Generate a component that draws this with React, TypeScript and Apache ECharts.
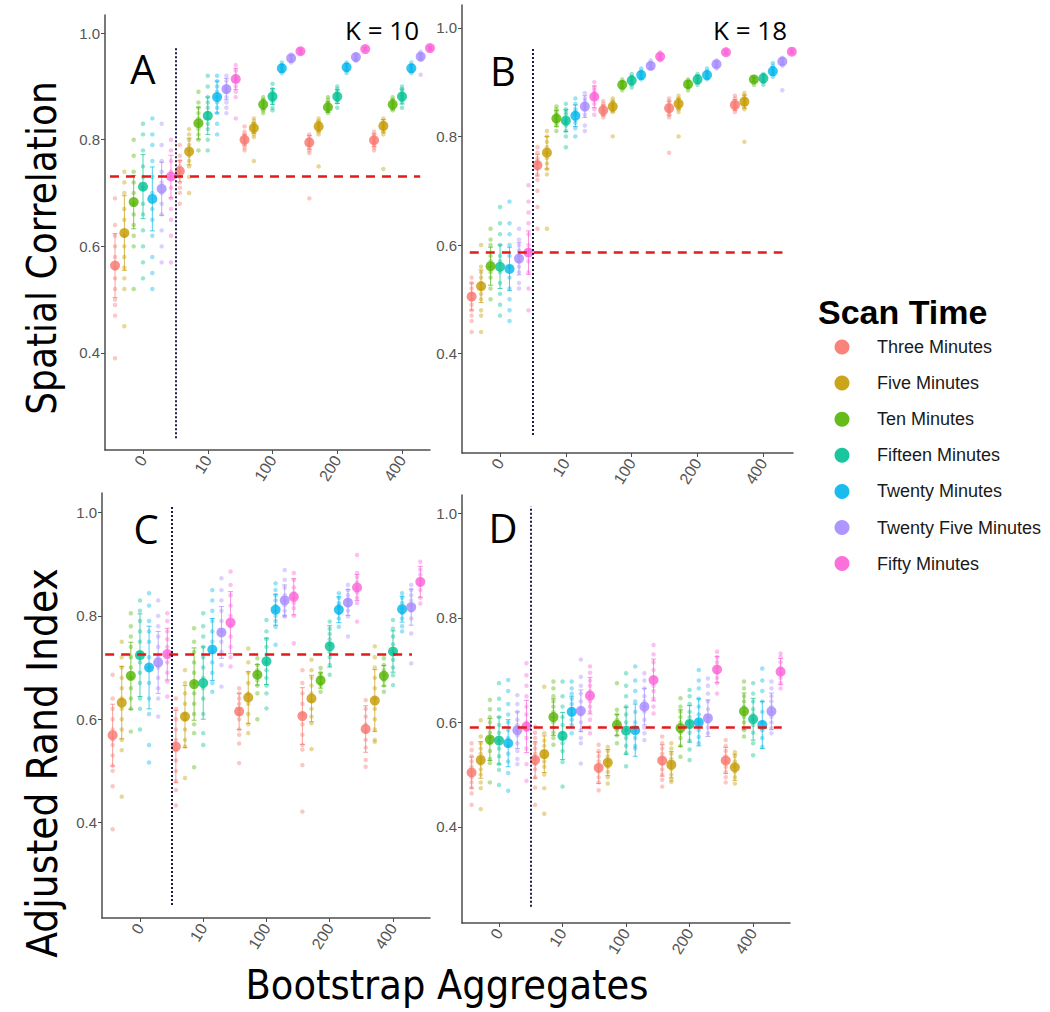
import React, { useEffect, useRef } from "react";
import * as echarts from "echarts";

// ---------- data ----------
const categories = ["0", "10", "100", "200", "400"];
const scanTimes = [
  "Three Minutes",
  "Five Minutes",
  "Ten Minutes",
  "Fifteen Minutes",
  "Twenty Minutes",
  "Twenty Five Minutes",
  "Fifty Minutes",
];
const colors = ["#F8766D", "#C49A00", "#53B400", "#00C094", "#00B6EB", "#A58AFF", "#FB61D7"];
const yTicks = [0.4, 0.6, 0.8, 1.0];

// means: rows = bootstrap aggregate group, cols = scan time
const meansA = [
  [0.564, 0.625, 0.683, 0.712, 0.689, 0.708, 0.731],
  [0.741, 0.778, 0.831, 0.845, 0.88, 0.895, 0.914],
  [0.8, 0.822, 0.866, 0.881, 0.934, 0.953, 0.966],
  [0.795, 0.825, 0.861, 0.881, 0.936, 0.955, 0.97],
  [0.799, 0.826, 0.866, 0.881, 0.934, 0.956, 0.972],
];
const sdA = [
  [0.06, 0.07, 0.05, 0.06, 0.06, 0.05, 0.04],
  [0.02, 0.025, 0.03, 0.035, 0.03, 0.02, 0.02],
  [0.01, 0.01, 0.01, 0.015, 0.007, 0.005, 0.004],
  [0.013, 0.01, 0.01, 0.013, 0.007, 0.005, 0.003],
  [0.012, 0.012, 0.01, 0.014, 0.007, 0.005, 0.003],
];
const pointsA = [
  [
    "69 64 62 60 58 56 54 52 50 49 47 39",
    "74 72 70 67 65 62 60 58 56 54 52 45",
    "80 77 74 72 70 68 66 64 62 60 52",
    "83 81 78 75 73 71 68 66 63 60 57 54",
    "84 81 79 76 73 70 67 65 62 58 55 52",
    "83 79 76 74 72 70 68 66 63 60 57",
    "80 78 76 74 73 71 69 67 65 62 57",
  ],
  [
    "79 77 76 75 74 73 72 71 70 68",
    "82 81 80 79 78 77 76 75 73 70",
    "89 87 86 85 84 83 82 81 80 78",
    "92 90 88 87 86 85 84 83 82 80 78",
    "92 91 90 89 88 87 86 85 83 81",
    "92 91 90 89.5 89 88 87 86 85",
    "94 93 92 91.5 91 90 89 88 84",
  ],
  [
    "82.5 81.5 81 80.5 80 79.5 79 78.5 78",
    "84 83.5 83 82.5 82 81.5 81 80.5 76",
    "88 87.5 87 86.5 86 85.5 85",
    "90.5 89.5 89 88.5 88 87.5 87 86 85.5",
    "94.5 94 93.5 93 92.5",
    "96 95.5 95 94.5",
    "97 96.8 96.5 96.2",
  ],
  [
    "81 80.5 80 79.5 79 78.5 78 77.5 69",
    "84 83.5 83 82.5 82 81.5 81 75",
    "88 87.5 87 86.5 86 85.5 85",
    "90 89.5 89 88.5 88 87.5 87 86",
    "94.5 94 93.5 93 92.5",
    "96 95.5 95 94.8",
    "97.3 97 96.8",
  ],
  [
    "81.5 81 80.5 80 79.5 79 78.5 78",
    "84 83.5 83 82.5 82 81.5 81 74.5",
    "88 87.5 87 86.5 86 85.5",
    "90 89.5 89 88.5 88 87.5 87 86",
    "94.5 94 93.5 93 92.5",
    "96.5 96 95.5 95 92.2",
    "97.5 97.2 97 96.8",
  ],
];

const meansB = [
  [0.505, 0.524, 0.561, 0.56, 0.556, 0.575, 0.586],
  [0.747, 0.77, 0.833, 0.829, 0.838, 0.855, 0.873],
  [0.848, 0.855, 0.895, 0.903, 0.913, 0.93, 0.947],
  [0.852, 0.86, 0.896, 0.905, 0.913, 0.933, 0.955],
  [0.858, 0.864, 0.905, 0.907, 0.92, 0.938, 0.956],
];
const sdB = [
  [0.025, 0.03, 0.035, 0.04, 0.04, 0.03, 0.04],
  [0.02, 0.03, 0.015, 0.02, 0.02, 0.02, 0.02],
  [0.01, 0.01, 0.006, 0.008, 0.007, 0.005, 0.004],
  [0.013, 0.01, 0.006, 0.008, 0.007, 0.005, 0.003],
  [0.01, 0.012, 0.004, 0.008, 0.008, 0.006, 0.003],
];
const pointsB = [
  [
    "54 53 52 51 50 49 48 47 46 44",
    "60 56 55 54 53 52 51 50 48 47 44",
    "63 61 60 58 57 56 55 54 52 50",
    "67 64 62 60 58 57 55 53 51 49 47",
    "68 64 62 60 58 56 54 52 50 48 46",
    "63 61 60 59 58 57 56 55 53 52",
    "71 68 66 64 62 60 59 57 55 52 48",
  ],
  [
    "78 77 76 75.5 75 74 73 72 70 67 63",
    "81 80 79 78 77 76 75 74 73 63",
    "85.5 85 84.5 84 83.5 83 82.5 82 81",
    "86 85 84.5 84 83 82.5 82 81 80 78",
    "87 86 85 84.5 84 83 82.5 81.5 80",
    "88 87 86.5 86 85.5 85 84 82 81",
    "90 89 88.5 88 87.5 87 86 85 84",
  ],
  [
    "86.5 86 85.5 85 84.5 84 83.5",
    "87 86.5 86 85.5 85 84.5 80",
    "90.5 90 89.5 89 88.5",
    "91.5 91 90.5 90 89.5 89",
    "92.5 92 91.5 91 90.5",
    "94 93.5 93 92.5",
    "95.5 95 94.5 94",
  ],
  [
    "87 86.5 86 85.5 85 84.5 84 83.5 77",
    "87.5 87 86.5 86 85.5 85 84.5 80",
    "90.5 90 89.5 89 88.5",
    "91.5 91 90.5 90 89.5",
    "92.5 92 91.5 91 90.5",
    "94 93.5 93 92.5",
    "96 95.5 95.2",
  ],
  [
    "87.5 87 86.5 86 85.5 85 84.5",
    "88 87.5 87 86.5 86 85.5 85 79",
    "91 90.5 90 89.5",
    "91.5 91 90.5 90 89.5",
    "93.5 93 92.5 92 91.5 91",
    "94.5 94 93.5 93 88.5",
    "96 95.7 95.4",
  ],
];

const meansC = [
  [0.569, 0.632, 0.684, 0.724, 0.7, 0.71, 0.726],
  [0.547, 0.605, 0.668, 0.67, 0.735, 0.768, 0.787],
  [0.615, 0.642, 0.686, 0.712, 0.812, 0.83, 0.837],
  [0.606, 0.64, 0.675, 0.741, 0.812, 0.826, 0.855],
  [0.581, 0.636, 0.684, 0.731, 0.813, 0.817, 0.866],
];
const sdC = [
  [0.06, 0.07, 0.065, 0.08, 0.08, 0.06, 0.05],
  [0.07, 0.06, 0.07, 0.07, 0.06, 0.05, 0.06],
  [0.035, 0.05, 0.02, 0.045, 0.03, 0.03, 0.035],
  [0.055, 0.045, 0.015, 0.04, 0.025, 0.025, 0.025],
  [0.045, 0.06, 0.02, 0.04, 0.025, 0.035, 0.03],
];
const pointsC = [
  [
    "68.6 64 62 60 58 56 55 53 51 50 47 38.7",
    "75 72 70 68 66 64 62 60 58 56 54 45",
    "80.5 78 76 74 72 70 68 66 64 62 57.6",
    "83 81 79 77 75 73 71 69 67 64 62 58",
    "84.4 82 79 77 75 72 70 67 64 61 55 51.6",
    "83 80 78 76 74 72 70 68 66 64 60.5",
    "80.5 79 77 75.5 74 72.5 71 69 67.3 64.4",
  ],
  [
    "64 62 60 58 56 54 52 50 48 46.3 43.3",
    "69.5 67 65 63 61 60 58 56 54.7 48.6",
    "77.6 75 73 71 69 67 65 63 61 59 57.3 50.7",
    "80.5 78 76 74 72 70 68 66 64 61 57.3 55",
    "85 83 81 79 77 75 73 71 69 67 65.3",
    "87.3 85 83 81 79 77 75 73 70.5 66.3",
    "88.6 86 84 82 80 78 76 74 72 70.2",
  ],
  [
    "66 65 64 63 62 61 60 58 57 55.3 51.5",
    "73.7 71 69 67 65 63 61 59 57.3",
    "71.8 70.5 69.5 68.5 67.5 66.5 65 60",
    "79.2 77 75.5 74 72.5 71 69.5 68 66.5 65 62.1",
    "86.3 85 84 83 82 81 80 79 77.9 74.4",
    "88.9 87 85.5 84 83 82 81 80 79.9",
    "88.3 87 85.5 84.5 83.5 82.5 81.5 80 74.7",
  ],
  [
    "69.5 67 65 63 61 59 57 55 54.1 51.1 42.1",
    "71.5 69.5 68 66.5 65 63.5 62 60.5 59.2 54.2",
    "69.9 69 68.5 68 67 66.5 65.3",
    "78.9 77.5 76.5 75.5 74.5 73 72 70.5 68.6",
    "84.4 83.5 82.5 82 81.5 80.5 79.5 77.9",
    "86 85 84 83 82 81 79.9 76",
    "91.8 88.3 87.5 86.5 85.5 84.5 83.5 82.5 78.9",
  ],
  [
    "63.7 62 60.5 59 57.5 56 54.5 52.1 50.8",
    "74.1 72 70 68 66 64 62 60 58 56 55.6",
    "71.8 70.5 69.5 68.5 67.5 66.5 65.3",
    "79.2 77.5 76 74.5 73 71.5 70 68.5 66.6",
    "84.4 83.5 82.5 81.5 80.5 79.5 78 77",
    "86 85 84 83 82 81 79.5 76.6 70.8",
    "90.5 89 88 87 86 85 83.5 82.4",
  ],
];

const meansD = [
  [0.504, 0.528, 0.567, 0.565, 0.56, 0.585, 0.592],
  [0.528, 0.539, 0.61, 0.574, 0.62, 0.622, 0.651],
  [0.513, 0.523, 0.595, 0.584, 0.585, 0.63, 0.681],
  [0.527, 0.519, 0.589, 0.597, 0.6, 0.608, 0.701],
  [0.527, 0.514, 0.621, 0.606, 0.595, 0.621, 0.697],
];
const sdD = [
  [0.03, 0.035, 0.04, 0.045, 0.045, 0.035, 0.05],
  [0.035, 0.035, 0.035, 0.045, 0.03, 0.04, 0.035],
  [0.03, 0.025, 0.02, 0.045, 0.05, 0.035, 0.04],
  [0.03, 0.025, 0.035, 0.035, 0.045, 0.035, 0.025],
  [0.025, 0.025, 0.035, 0.04, 0.045, 0.035, 0.025],
];
const pointsD = [
  [
    "56 54.7 53.5 52.5 51.5 50.5 49.5 48.5 47.5 46.4 44.2",
    "60.4 57.3 56 55 54 53 52 51 50 48.5 47.4 43.4",
    "64.3 62.5 61 60 59 58 57 56 54.5 53 52.2 48.5",
    "67.5 64.5 62.5 61 59.5 58 56.5 55 53.5 52 50.9 48",
    "68.1 66 63.5 61.5 60 58.5 57 55.5 54 52.5 50.3 46.9",
    "65.2 63.5 62 60.5 59.5 58.5 57.5 56 54.5 53 52",
    "71.3 69 67 65 63 61.5 60 58.5 57 55 52 48.8",
  ],
  [
    "59.2 58 57 56 55 54 53 52 51 49.5 47.5 44.2",
    "66.8 57.9 56.5 55.5 54.5 53.5 52.5 51.5 50 47.4 42.5",
    "67.8 66.5 65 64 63 62 61 60 59 58 57 55.7",
    "67.8 65 63 61 59.5 58 57 56 54.5 52.4 47.7",
    "67.8 66.5 65.5 64.5 63.5 62.5 61.5 60.5 59.5 57.9",
    "72 68.7 67 65.5 64 62.5 61.5 60 58.5 57 56 52.1",
    "70.7 69.5 68 67 66 65 64 63 62 60.5 59 57.9",
  ],
  [
    "55.7 54.5 53.5 52.5 51.5 50.5 49.5 48.5 47",
    "55.3 54.5 53.5 52.5 51.5 50.5 49.5 48.3",
    "67.5 62.4 61.5 60.5 59.5 58.5 57.5 56",
    "69.4 67 65 63 61.5 60 58.5 57 55.5 54.1 51.6",
    "70.7 68 66 64 62 60 58.5 57 55.5 55",
    "69.4 68 66.5 65 64 63 62 60.5 59 57.9 56.6",
    "74.8 73 71.5 70 68.5 67 66 64.5 63 61.7",
  ],
  [
    "57.3 56 55 54 53 52 51 50 49 47.7",
    "56 55 54 53 52 51 50 49 48.6",
    "64.6 63 62 61 60 59 58 57 55.5 53.4",
    "66.2 65 63.5 62 61 60 59 58 56.5 54.8 52.8",
    "70 68 66.5 64.5 63 61.5 60 58.5 57.2 56",
    "68.4 67 65.5 64 62.5 61 60 59 57.9",
    "73.5 72.5 71.5 70.5 69.5 68.5 67.5 65.5",
  ],
  [
    "56.6 55.5 54.5 53.5 52.5 51.5 50.5 49.5 48.5",
    "54.3 53.5 52.5 51.5 50.5 49.5 48.3",
    "67.8 66.5 65 64 63 62 61 60 58.5 57.3",
    "67.5 65.5 64 62.5 61.5 60.5 59.5 58 56 53.7",
    "70.3 68 66 64 62 60 58.5 57 55.3",
    "67.8 66.5 65 64 63 62 61 60 58.9 57.9",
    "73.2 72.5 71.5 70.5 69.5 68.5 67.5 66.5",
  ],
];

const refLines = [0.731, 0.586, 0.726, 0.59];

// ---------- layout ----------
const panels = [
  { letter: "A", means: meansA, sds: sdA, points: pointsA, grid: { left: 105, top: 15, width: 325, height: 435 }, x: [-0.587, 4.432], y: [0.218, 1.034], h: [-0.51, 4.28], v: [0.24, 0.972], lp: [143, 68], k: "K = 10", kp: [382, 30] },
  { letter: "B", means: meansB, sds: sdB, points: pointsB, grid: { left: 462, top: 5, width: 331, height: 448 }, x: [-0.578, 4.45], y: [0.217, 1.042], h: [-0.46, 4.29], v: [0.25, 0.963], lp: [503, 70], k: "K = 18", kp: [750, 30] },
  { letter: "C", means: meansC, sds: sdC, points: pointsC, grid: { left: 102, top: 493, width: 328, height: 425 }, x: [-0.6, 4.585], y: [0.215, 1.038], h: [-0.55, 4.3], v: [0.24, 1.012], lp: [146, 528] },
  { letter: "D", means: meansD, sds: sdD, points: pointsD, grid: { left: 462, top: 495, width: 328, height: 428 }, x: [-0.583, 4.58], y: [0.216, 1.035], h: [-0.46, 4.45], v: [0.247, 1.013], lp: [503, 527] },
];
const dodge = 0.144;

function buildOption() {
  const grids: any[] = [];
  const xAxes: any[] = [];
  const yAxes: any[] = [];
  const series: any[] = [];
  const graphics: any[] = [];
  const axisColor = "#4d4d4d";

  panels.forEach((p, pi) => {
    grids.push({ ...p.grid, containLabel: false });
    xAxes.push({
      type: "value",
      gridIndex: pi,
      min: p.x[0],
      max: p.x[1],
      splitLine: { show: false },
      axisLine: { show: true, onZero: false, lineStyle: { color: axisColor, width: 1.5 } },
      axisTick: { show: true, length: 4, customValues: [0, 1, 2, 3, 4], lineStyle: { color: axisColor } },
      axisLabel: {
        customValues: [0, 1, 2, 3, 4],
        rotate: 58,
        margin: 7,
        fontSize: 16,
        color: "#555",
        fontFamily: "Liberation Sans, Arial, sans-serif",
        formatter: (v: number) => categories[Math.round(v)] ?? "",
      },
    });
    yAxes.push({
      type: "value",
      gridIndex: pi,
      min: p.y[0],
      max: p.y[1],
      splitLine: { show: false },
      axisLine: { show: true, onZero: false, lineStyle: { color: axisColor, width: 1.5 } },
      axisTick: { show: true, length: 4, customValues: yTicks, lineStyle: { color: axisColor } },
      axisLabel: {
        customValues: yTicks,
        margin: 5,
        fontSize: 15,
        color: "#555",
        fontFamily: "Liberation Sans, Arial, sans-serif",
        formatter: (v: number) => v.toFixed(1),
      },
    });

    const small: any[] = [];
    const bars: any[] = [];
    const meanPts: any[] = [];
    p.means.forEach((row, gi) => {
      row.forEach((m, si) => {
        const xv = gi + (si - 3) * dodge;
        p.points[gi][si]
          .split(" ")
          .map(Number)
          .forEach((v) => small.push({ value: [xv, v / 100], itemStyle: { color: colors[si] } }));
        const sd = p.sds[gi][si];
        bars.push([xv, m - sd, m + sd, si]);
        meanPts.push({ value: [xv, m], itemStyle: { color: colors[si] } });
      });
    });

    series.push({
      type: "scatter",
      xAxisIndex: pi,
      yAxisIndex: pi,
      symbolSize: 4.5,
      itemStyle: { opacity: 0.4 },
      data: small,
      z: 2,
      silent: true,
    });
    series.push({
      type: "custom",
      xAxisIndex: pi,
      yAxisIndex: pi,
      coordinateSystem: "cartesian2d",
      encode: { x: 0, y: [1, 2] },
      data: bars,
      z: 3,
      silent: true,
      renderItem: (params: any, api: any) => {
        const xv = api.value(0);
        const top = api.coord([xv, api.value(2)]);
        const bot = api.coord([xv, api.value(1)]);
        const c = colors[api.value(3)];
        const w = 2.5;
        const st = { stroke: c, lineWidth: 1, opacity: 0.7 };
        return {
          type: "group",
          children: [
            { type: "line", shape: { x1: top[0], y1: top[1], x2: bot[0], y2: bot[1] }, style: st },
            { type: "line", shape: { x1: top[0] - w, y1: top[1], x2: top[0] + w, y2: top[1] }, style: st },
            { type: "line", shape: { x1: bot[0] - w, y1: bot[1], x2: bot[0] + w, y2: bot[1] }, style: st },
          ],
        };
      },
    });
    series.push({
      type: "scatter",
      xAxisIndex: pi,
      yAxisIndex: pi,
      symbolSize: 10,
      data: meanPts,
      z: 4,
      silent: true,
      markLine: {
        silent: true,
        symbol: "none",
        label: { show: false },
        animation: false,
        data: [
          [
            { coord: [p.h[0], refLines[pi]], lineStyle: { color: "#e31a1c", type: [9, 7], width: 2.5 } },
            { coord: [p.h[1], refLines[pi]] },
          ],
          [
            { coord: [0.5, p.v[0]], lineStyle: { color: "#1c1c4c", type: [2, 2], width: 2 } },
            { coord: [0.5, p.v[1]] },
          ],
        ],
      },
    });

    graphics.push({
      type: "text",
      x: p.lp[0],
      y: p.lp[1],
      style: {
        text: p.letter,
        fontSize: 40,
        fontFamily: "Open Sans, Lato, sans-serif",
        fill: "#000",
        align: "center",
        verticalAlign: "middle",
      },
      z: 10,
    });
    if (p.k) {
      graphics.push({
        type: "text",
        x: p.kp[0],
        y: p.kp[1],
        style: {
          text: p.k,
          fontSize: 26,
          fontFamily: "Open Sans, Lato, sans-serif",
          fill: "#000",
          align: "center",
          verticalAlign: "middle",
        },
        z: 10,
      });
    }
  });

  // axis titles
  const titleFont = "Liberation Sans Narrow, DejaVu Sans Condensed, Open Sans, sans-serif";
  graphics.push({
    type: "text",
    x: 42,
    y: 248,
    rotation: Math.PI / 2,
    style: { text: "Spatial Correlation", fontSize: 40, fontFamily: titleFont, fill: "#000", align: "center", verticalAlign: "middle" },
  });
  graphics.push({
    type: "text",
    x: 42,
    y: 763,
    rotation: Math.PI / 2,
    style: { text: "Adjusted Rand Index", fontSize: 42, fontFamily: titleFont, fill: "#000", align: "center", verticalAlign: "middle" },
  });
  graphics.push({
    type: "text",
    x: 447,
    y: 985,
    style: { text: "Bootstrap Aggregates", fontSize: 41, fontFamily: titleFont, fill: "#000", align: "center", verticalAlign: "middle" },
  });

  // legend
  graphics.push({
    type: "text",
    x: 818,
    y: 312,
    style: { text: "Scan Time", fontSize: 34, fontWeight: "bold", fontFamily: "Liberation Sans, Arial, sans-serif", fill: "#000", align: "left", verticalAlign: "middle" },
  });
  scanTimes.forEach((name, i) => {
    const yy = 347 + i * 36.1;
    graphics.push({ type: "circle", shape: { cx: 842, cy: yy, r: 7.5 }, style: { fill: colors[i], opacity: 0.9 } });
    graphics.push({
      type: "text",
      x: 877,
      y: yy,
      style: { text: name, fontSize: 18, fontFamily: "Liberation Sans, Arial, sans-serif", fill: "#1a1a1a", align: "left", verticalAlign: "middle" },
    });
  });

  return {
    animation: false,
    backgroundColor: "#ffffff",
    grid: grids,
    xAxis: xAxes,
    yAxis: yAxes,
    series,
    graphic: graphics,
  };
}

export default function App() {
  const ref = useRef<HTMLDivElement>(null);
  useEffect(() => {
    if (!ref.current) return;
    const chart = echarts.init(ref.current, undefined, { renderer: "svg" });
    chart.setOption(buildOption() as any);
    return () => chart.dispose();
  }, []);
  return (
    <div
      ref={ref}
      style={{ position: "absolute", left: 0, top: 0, width: 1050, height: 1012, background: "#fff" }}
    />
  );
}
